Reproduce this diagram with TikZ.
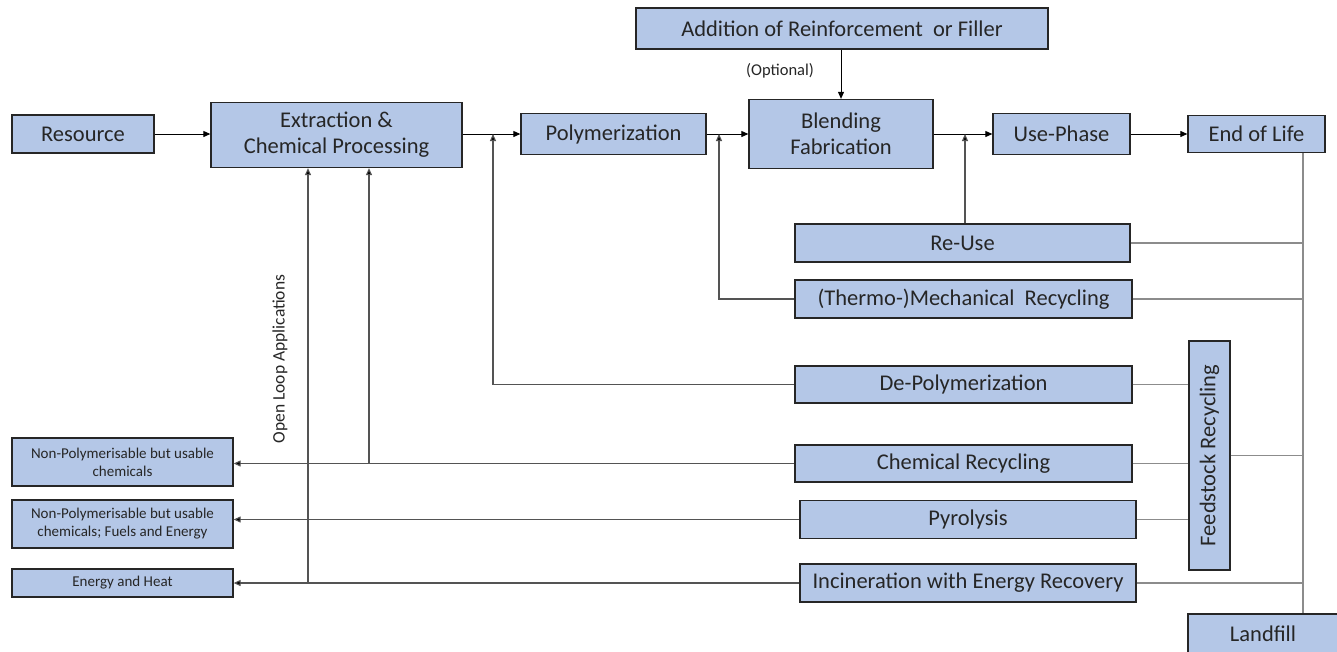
\documentclass[tikz,border=0pt]{standalone}
\usepackage{fontspec}
\setmainfont{Carlito}
\usetikzlibrary{arrows.meta}
\definecolor{boxfill}{HTML}{B4C7E7}
\definecolor{boxline}{HTML}{262626}
\definecolor{linkgray}{HTML}{8C8C8C}
\begin{document}
\begin{tikzpicture}[x=1pt,y=-1pt,
  box/.style={draw=boxline,fill=boxfill,line width=1.3pt,inner sep=0pt,align=center,
    font=\fontsize{22.5}{26}\selectfont,text=black!85},
  smallbox/.style={box,font=\fontsize{15}{18}\selectfont},
  arr/.style={draw=black,line width=0.9pt,-{Triangle[length=7pt,width=6pt]}},
  link/.style={draw=linkgray,line width=1.2pt},
  linkarr/.style={draw=linkgray!60!black,line width=1.1pt,-{Triangle[length=7pt,width=6pt,fill=black]}}]
\clip (0,0) rectangle (1337,651);
\fill[white] (0,0) rectangle (1337,651);

% main chain
\node[box,minimum width=142pt,minimum height=38pt] (res) at (83,134) {Resource};
\node[box,minimum width=251pt,minimum height=65pt] (ext) at (336.5,135) {Extraction \&\\Chemical Processing};
\node[box,minimum width=185pt,minimum height=41pt] (poly) at (613.5,134) {Polymerization};
\node[box,minimum width=412pt,minimum height=41pt] (add) at (842,28.5) {Addition of Reinforcement\ \ or Filler};
\node[box,minimum width=184pt,minimum height=69pt] (blend) at (841,134) {Blending\\Fabrication};
\node[box,minimum width=137pt,minimum height=41pt] (use) at (1061.5,134) {Use-Phase};
\node[box,minimum width=137pt,minimum height=37pt] (eol) at (1256.5,134) {End of Life};
\node[font=\fontsize{16.5}{19}\selectfont,text=black!85] (opt) at (780,71) {(Optional)};

% end-of-life routes
\node[box,minimum width=335pt,minimum height=38pt] (reuse) at (962.5,243) {Re-Use};
\node[box,minimum width=337pt,minimum height=38pt] (mech) at (963.5,299) {(Thermo-)Mechanical\ \ Recycling};
\node[box,minimum width=337pt,minimum height=37pt] (depoly) at (963.5,384.5) {De-Polymerization};
\node[box,minimum width=337pt,minimum height=37pt] (chem) at (963.5,463.5) {Chemical Recycling};
\node[box,minimum width=336pt,minimum height=38pt] (pyr) at (968,519.5) {Pyrolysis};
\node[box,minimum width=336pt,minimum height=38pt] (inc) at (968,583) {Incineration with Energy Recovery};
\node[box,minimum width=41pt,minimum height=229pt] (feed) at (1209.5,455.5) {};
\node[font=\fontsize{22.5}{26}\selectfont,text=black!85,rotate=90] (feedtxt) at (feed.center) {Feedstock Recycling};
\node[box,minimum width=150pt,minimum height=40pt] (land) at (1263,634) {Landfill};

% open-loop outputs
\node[smallbox,minimum width=221pt,minimum height=48pt] (np1) at (122.5,462) {Non-Polymerisable but usable\\chemicals};
\node[smallbox,minimum width=221pt,minimum height=48pt] (np2) at (122.5,524) {Non-Polymerisable but usable\\chemicals; Fuels and Energy};
\node[smallbox,minimum width=221pt,minimum height=28pt] (eh) at (122.5,583) {Energy and Heat};
\node[font=\fontsize{17.5}{20}\selectfont,text=black!85,rotate=90] (open) at (280,359) {Open Loop Applications};

% junction points
\coordinate (j1) at (493,134);
\coordinate (j2) at (719,134);
\coordinate (j3) at (965,134);
\coordinate (k1) at (369,463.5);
\coordinate (k2) at (308,583);
\coordinate (bus) at (1303,152);

% main chain arrows
\draw[arr] (res) -- (res -| ext.west);
\draw[arr] (ext.east |- poly) -- (poly.west);
\draw[arr] (poly) -- (blend.west |- poly);
\draw[arr] (add.south -| blend.north) -- (blend.north);
\draw[arr] (blend.east |- use) -- (use.west);
\draw[arr] (use.east) -- (eol.west);

% closed-loop returns
\draw[linkarr] (depoly.west) -| (j1);
\draw[linkarr] (mech.west) -| (j2);
\draw[linkarr] (reuse.north -| j3) -- (j3);

% end-of-life bus
\draw[link] (eol.south -| bus) -- (land.north -| bus);
\draw[link] (reuse.east) -- (reuse.east -| bus);
\draw[link] (mech.east) -- (mech.east -| bus);
\draw[link] (feed.east) -- (feed.east -| bus);
\draw[link] (inc.east) -- (inc.east -| bus);
\draw[link] (depoly.east) -- (depoly.east -| feed.west);
\draw[link] (chem.east) -- (chem.east -| feed.west);
\draw[link] (pyr.east) -- (pyr.east -| feed.west);

% open-loop outputs
\draw[linkarr] (chem.west) -- (chem.west -| np1.east);
\draw[linkarr] (pyr.west) -- (pyr.west -| np2.east);
\draw[linkarr] (inc.west) -- (inc.west -| eh.east);
\draw[linkarr] (k1) -- (k1 |- ext.south);
\draw[linkarr] (k2) -- (k2 |- ext.south);
\end{tikzpicture}
\end{document}
